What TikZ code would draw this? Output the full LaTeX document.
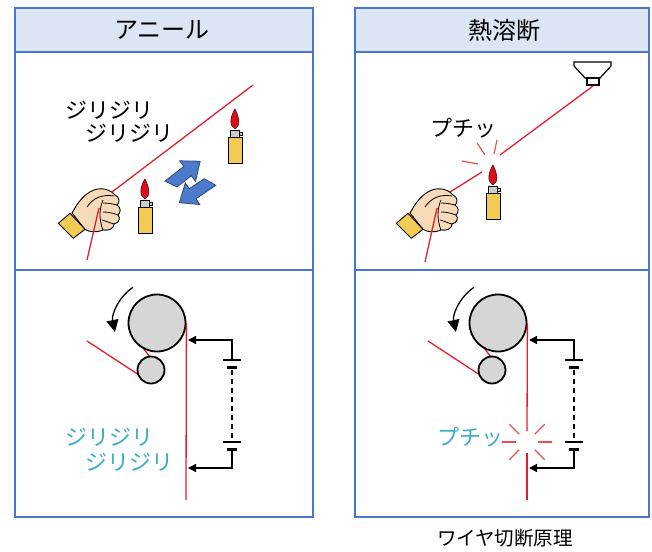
\documentclass[tikz,border=0pt]{standalone}
\usepackage{fontspec}
\newfontfamily\jp{Noto Sans CJK JP}
\usetikzlibrary{arrows.meta, calc}
\definecolor{panelBlue}{HTML}{4676D2}
\definecolor{headBlue}{HTML}{DCE5F4}
\definecolor{wireRed}{HTML}{E0202E}
\definecolor{sparkRed}{HTML}{E8504A}
\definecolor{textCyan}{HTML}{3AAEC2}
\definecolor{rollGray}{HTML}{D6D6D6}
\definecolor{skin}{HTML}{F7DAB8}
\definecolor{cuffYellow}{HTML}{F2CB55}
\definecolor{flameRed}{HTML}{D8101C}
\definecolor{arrowBlue}{HTML}{4C7BCB}

\begin{document}
\begin{tikzpicture}[
        x=1pt, y=-1pt,
        font=\jp,
        % panels
        panel/.style={draw=panelBlue, line width=2.2pt},
        header/.style={draw=panelBlue, fill=headBlue, line width=2.2pt},
        title/.style={font=\jp\fontsize{24pt}{24pt}\selectfont, inner sep=0pt},
        say/.style={font=\jp\fontsize{22pt}{22pt}\selectfont, inner sep=0pt, anchor=west},
        % wire and rollers
        wire/.style={draw=wireRed, line width=1.3pt},
        spark/.style={draw=sparkRed, line width=1.2pt},
        roller/.style={circle, draw=black, fill=rollGray, line width=1.8pt, inner sep=0pt},
        spin/.style={-{Triangle[length=12pt,width=12pt]}, line width=1.3pt},
        % power feed
        feed/.style={-{Triangle[length=8pt,width=8pt]}, line width=1.3pt},
        plate/.style={line width=1.3pt},
        stub/.style={line width=3pt},
        % small figures
        lighter/.pic={
            \draw[fill=flameRed, draw=black!60!red, line width=0.6pt]
                (0,-8) .. controls (-6,-11) and (-5,-20) .. (0,-28)
                       .. controls (4,-20) and (6,-11) .. (0,-8);
            \draw[fill=black!20, line width=0.8pt] (-4.5,-7) rectangle (4.5,0);
            \draw[fill=black!20, line width=0.8pt] (4.5,-5) rectangle (7,-2);
            \draw[fill=cuffYellow, line width=0.8pt] (-7,0) rectangle (7,26);
        },
        fist/.pic={
            \draw[fill=skin, line width=0.9pt]
                (-18,1) .. controls (-12,-10) and (-6,-18) .. (4,-22)
                .. controls (12,-25) and (21,-22) .. (25,-17)
                .. controls (30,-15) and (30,-9) .. (27,-7)
                .. controls (31,-5) and (31,1) .. (28,3)
                .. controls (31,6) and (29,11) .. (24,12)
                .. controls (24,17) and (18,19) .. (13,18)
                .. controls (6,21) and (-1,20) .. (-5,17.3) -- cycle;
            \draw[line width=0.8pt] (13,-9) .. controls (18,-9) and (23,-8) .. (27,-7);
            \draw[line width=0.8pt] (13,0) .. controls (18,0) and (23,1) .. (28,3);
            \draw[line width=0.8pt] (12,8) .. controls (16,9) and (20,11) .. (24,12);
            \draw[line width=0.8pt] (-3,-5) .. controls (3,-14) and (12,-18) .. (24,-16);
            \draw[line width=0.8pt] (13,-12) .. controls (9,-3) and (9,8) .. (13,18);
            \draw[fill=cuffYellow, line width=0.9pt] (-31.7,11.3) -- (-20,1.3) -- (-5,17.3) -- (-16.7,26.3) -- cycle;
        },
        bolt/.pic={
            \draw[fill=arrowBlue, draw=black!40!arrowBlue, line width=0.8pt]
                (-3,-6) -- (21,-6) -- (21,-13) -- (37,0) -- (21,13) -- (21,6) -- (3,6) -- cycle;
        }
    ]
    \useasboundingbox (0,0) rectangle (652,551);

    % -- Panel frames --
    \draw[panel] (15,52) rectangle (313,517);
    \draw[panel] (15,270) -- (313,270);
    \draw[header] (15,8) rectangle (313,52);
    \node[title] (annealTitle) at (162,30) {アニール};

    \draw[panel] (355,52) rectangle (649,517);
    \draw[panel] (355,270) -- (649,270);
    \draw[header] (355,8) rectangle (649,52);
    \node[title] (fuseTitle) at (504,30) {熱溶断};

    % -- Top left: wire heated while held --
    \draw[wire] (253,85) -- (112,192);
    \pic (handA) at (90,212) {fist};
    \draw[wire] (99,208) -- (87,260);
    \pic (lightA) at (235,137) {lighter};
    \pic (lightB) at (145,207) {lighter};
    \pic[rotate=38] (moveA) at (171,184) {bolt};
    \pic[rotate=214] (moveB) at (210,182) {bolt};
    \node[say] (sizzleA) at (65,110) {ジリジリ};
    \node[say] (sizzleB) at (85,133) {ジリジリ};

    % -- Top right: wire melted through --
    \draw[fill=white, line width=1.2pt] (574,62) -- (611,62) -- (611,66) -- (600,78) -- (585,78) -- (574,66) -- cycle;
    \draw[fill=white, line width=1.2pt] (587,78) rectangle (599,85);
    \coordinate (hook) at (593,86);
    \draw[wire] (hook) -- (500,155);
    \draw[wire] (482,172) -- (450,192);
    \pic (handB) at (428,212) {fist};
    \draw[wire] (437,208) -- (425,262);
    \pic (lightC) at (493,193) {lighter};
    \draw[spark] (477,143) -- (485,155);
    \draw[spark] (497,140) -- (494,154);
    \draw[spark] (462,161) -- (478,164);
    \node[say] (snapA) at (430,128) {プチッ};

    % -- Bottom left: current through the running wire --
    \draw[wire] (87,341) -- (139,375);
    \draw[wire] (143,348) -- (150,357);
    \node[roller, minimum size=57pt] (bigA) at (157,323) {};
    \node[roller, minimum size=27pt] (smallA) at (151,370) {};
    \draw[wire] (bigA.east) -- (186,500);
    \draw[spin] ($(bigA)+(-124:43)$) arc[start angle=-124, end angle=-192, radius=43];

    \coordinate (tapA) at (188,340);
    \coordinate (tapB) at (188,468);
    \draw[plate] (223,360) -- (241,360);
    \draw[stub] (227,367) -- (237,367);
    \draw[plate] (223,442) -- (241,442);
    \draw[stub] (227,449) -- (237,449);
    \draw[feed] (232,360) |- (tapA);
    \draw[feed] (232,449) |- (tapB);
    \draw[plate, dash pattern=on 5pt off 4pt] (232,370) -- (232,440);
    \node[say, text=textCyan] (sizzleC) at (65,437) {ジリジリ};
    \node[say, text=textCyan] (sizzleD) at (85,462) {ジリジリ};

    % -- Bottom right: wire snaps between the taps --
    \draw[wire] (428,341) -- (480,375);
    \draw[wire] (484,348) -- (491,357);
    \node[roller, minimum size=57pt] (bigB) at (498,323) {};
    \node[roller, minimum size=27pt] (smallB) at (492,370) {};
    \draw[wire] (bigB.east) -- (527,431);
    \draw[wire] (527,453) -- (527,500);
    \draw[spin] ($(bigB)+(-124:43)$) arc[start angle=-124, end angle=-192, radius=43];
    \foreach \a in {0,45,135,180,225,315}
        \draw[spark] ($(527,442)+(\a:11)$) -- ($(527,442)+(\a:25)$);

    \coordinate (tapC) at (529,340);
    \coordinate (tapD) at (529,468);
    \draw[plate] (565,360) -- (583,360);
    \draw[stub] (569,367) -- (579,367);
    \draw[plate] (565,442) -- (583,442);
    \draw[stub] (569,449) -- (579,449);
    \draw[feed] (574,360) |- (tapC);
    \draw[feed] (574,449) |- (tapD);
    \draw[plate, dash pattern=on 5pt off 4pt] (574,370) -- (574,440);
    \node[say, text=textCyan] (snapB) at (437,437) {プチッ};

    % -- Caption --
    \node[font=\jp\fontsize{19.5pt}{19.5pt}\selectfont] (caption) at (505,538) {ワイヤ切断原理};
\end{tikzpicture}
\end{document}
